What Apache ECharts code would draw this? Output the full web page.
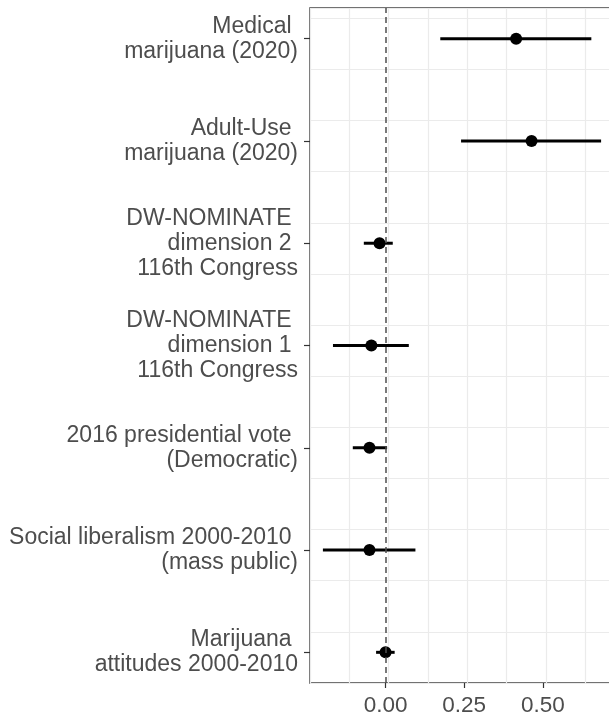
<!DOCTYPE html>
<html>
<head>
<meta charset="utf-8">
<script src="https://cdn.jsdelivr.net/npm/echarts@6/dist/echarts.min.js"></script>
<style>
  html, body { margin: 0; padding: 0; background: #fff; }
  #chart { width: 609px; height: 717px; }
</style>
</head>
<body>
<div id="chart"></div>
<script>
// Coefficient plot: point estimates with confidence intervals, top to bottom
const categories = [
  'Medical \nmarijuana (2020)',
  'Adult-Use \nmarijuana (2020)',
  'DW-NOMINATE \ndimension 2 \n116th Congress',
  'DW-NOMINATE \ndimension 1 \n116th Congress',
  '2016 presidential vote \n(Democratic)',
  'Social liberalism 2000-2010 \n(mass public)',
  'Marijuana \nattitudes 2000-2010'
];
const estimates = [0.415, 0.464, -0.019, -0.045, -0.051, -0.051, 0.000];
const lower     = [0.174, 0.240, -0.069, -0.167, -0.104, -0.199, -0.030];
const upper     = [0.654, 0.685, 0.023, 0.074, 0.005, 0.095, 0.029];
const xTickLabels = [0, 0.25, 0.5];

// Rows are placed at 7 (top) down to 1 (bottom)
const n = categories.length;
const rowPos = categories.map((_, i) => n - i);
const posToLabel = {};
rowPos.forEach((p, i) => { posToLabel[p] = categories[i]; });

const barData = categories.map((_, i) => [lower[i], upper[i], rowPos[i]]);
const pointData = categories.map((_, i) => [estimates[i], rowPos[i]]);

const chart = echarts.init(document.getElementById('chart'), null, { renderer: 'canvas' });
const textColor = '#4d4d4d';
const fontFamily = '"Liberation Sans", Arial, sans-serif';
const gridLine = { show: true, lineStyle: { color: '#ebebeb', width: 1.2 } };
const X_MIN = -0.24, X_MAX = 0.76, Y_MIN = 0.7, Y_MAX = 7.3;

chart.setOption({
  animation: false,
  backgroundColor: '#ffffff',
  grid: {
    left: 310, top: 8, width: 314.7, height: 675,
    outerBoundsMode: 'none', containLabel: false,
    show: true, borderColor: '#444444', borderWidth: 1.5, backgroundColor: 'transparent'
  },
  xAxis: [
    {
      // labelled axis
      type: 'value', min: X_MIN, max: X_MAX, interval: 0.125, position: 'bottom',
      axisLine: { show: false, onZero: false },
      axisTick: { show: true, customValues: xTickLabels, length: 5, lineStyle: { color: '#333333', width: 1.2 } },
      axisLabel: {
        customValues: xTickLabels,
        formatter: v => v.toFixed(2),
        color: textColor, fontSize: 22.5, fontFamily: fontFamily, margin: 11
      },
      splitLine: { show: false }
    },
    {
      // background grid lines every 0.125
      type: 'value', min: X_MIN, max: X_MAX, interval: 0.125, position: 'top',
      axisLine: { show: false, onZero: false }, axisTick: { show: false }, axisLabel: { show: false },
      splitLine: gridLine
    }
  ],
  yAxis: [
    {
      type: 'value', min: Y_MIN, max: Y_MAX, interval: 0.5, position: 'left',
      axisLine: { show: false, onZero: false },
      axisTick: { show: true, customValues: rowPos, length: 6, lineStyle: { color: '#333333', width: 1.2 } },
      axisLabel: {
        customValues: rowPos,
        formatter: v => posToLabel[Math.round(v)] || '',
        color: textColor, fontSize: 23, fontFamily: fontFamily,
        lineHeight: 25, margin: 12, align: 'right', verticalAlign: 'middle',
        padding: [11, 0, 0, 0]
      },
      splitLine: { show: false }
    },
    {
      type: 'value', min: Y_MIN, max: Y_MAX, interval: 0.5, position: 'right',
      axisLine: { show: false, onZero: false }, axisTick: { show: false }, axisLabel: { show: false },
      splitLine: gridLine
    }
  ],
  series: [
    {
      type: 'custom',
      z: 2,
      xAxisIndex: 0, yAxisIndex: 0,
      data: barData,
      encode: { x: [0, 1], y: 2 },
      renderItem: function (params, api) {
        const p1 = api.coord([api.value(0), api.value(2)]);
        const p2 = api.coord([api.value(1), api.value(2)]);
        return {
          type: 'line',
          shape: { x1: p1[0], y1: p1[1], x2: p2[0], y2: p2[1] },
          style: { stroke: '#000000', lineWidth: 3 }
        };
      },
      markLine: {
        silent: true,
        symbol: 'none',
        label: { show: false },
        lineStyle: { color: '#4d4d4d', type: [6, 4], width: 1.5, opacity: 1 },
        data: [{ xAxis: 0 }]
      }
    },
    {
      type: 'scatter',
      z: 3,
      xAxisIndex: 0, yAxisIndex: 0,
      data: pointData,
      symbol: 'circle',
      symbolSize: 12,
      itemStyle: { color: '#000000', opacity: 1 }
    }
  ]
});
</script>
</body>
</html>
